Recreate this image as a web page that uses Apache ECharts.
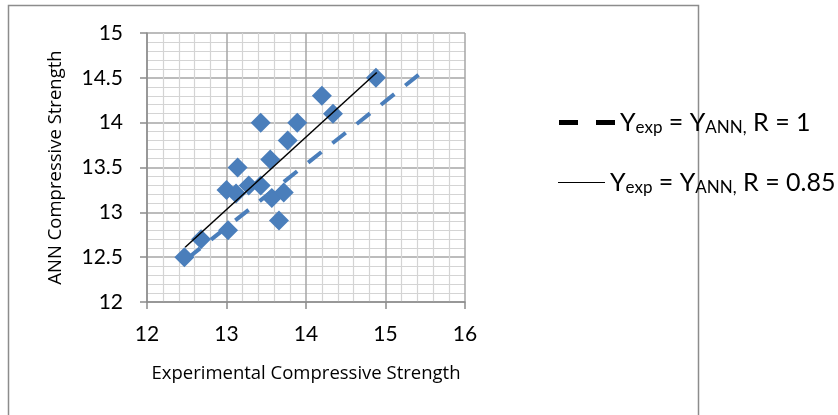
<!DOCTYPE html>
<html>
<head>
<meta charset="utf-8">
<script src="https://cdn.jsdelivr.net/npm/echarts@6/dist/echarts.min.js"></script>
<style>
  html, body { margin: 0; padding: 0; background: #fff; }
  #chart { width: 838px; height: 415px; }
</style>
</head>
<body>
<div id="chart"></div>
<script>
// 实验值与ANN预测值
const expX = [12.47, 12.68, 13.02, 13.14, 13.0, 13.12, 13.28, 13.43, 13.55, 13.57, 13.72, 13.66, 13.43, 13.89, 13.77, 14.2, 14.34, 14.88];
const annY = [12.5, 12.7, 12.8, 13.5, 13.25, 13.21, 13.3, 13.3, 13.59, 13.16, 13.22, 12.91, 14.0, 14.0, 13.8, 14.3, 14.1, 14.5];

// 两条参考线的端点
const lineR1X = [12.5, 15.44];
const lineR1Y = [12.48, 14.55];
const lineR085X = [12.48, 14.89];
const lineR085Y = [12.61, 14.56];

const xTicks = [12, 13, 14, 15, 16];
const yTicks = [12, 12.5, 13, 13.5, 14, 14.5, 15];

const nameR1 = 'R1';
const nameR085 = 'R085';

const FONT = 'Lato';
const NAME_FONT = 'Open Sans';
const GRID_MAJOR = '#a6a6a6';
const GRID_MINOR = '#d4d4d4';
const BLUE = '#4a7ebb';

function pairs(xs, ys) {
    return xs.map((x, i) => [x, ys[i]]);
}

const legendRich = {
    n: { fontFamily: FONT, fontSize: 25, color: '#000' },
    s: { fontFamily: FONT, fontSize: 17, color: '#000', padding: [11, 0, 0, 0] }
};

const chart = echarts.init(document.getElementById('chart'), null, { renderer: 'canvas' });

chart.setOption({
    animation: false,
    backgroundColor: '#fff',
    textStyle: { fontFamily: FONT },
    grid: { left: 147, right: 373, top: 33, bottom: 113, containLabel: false },
    graphic: [{
        type: 'rect',
        shape: { x: 8.5, y: 5.5, width: 690, height: 420 },
        style: { fill: 'none', stroke: '#8c8c8c', lineWidth: 1.5 },
        silent: true
    }],
    legend: [{
        left: 554, top: 105,
        itemWidth: 56, itemHeight: 5, itemGap: 10,
        data: [{
            name: nameR1,
            icon: 'path://M0,0H19V5H0Z M37,0H56V5H37Z',
            itemStyle: { color: '#000' }
        }],
        formatter: () => '{n|Y}{s|exp}{n| = Y}{s|ANN,}{n| R = 1}',
        textStyle: { rich: legendRich }
    }, {
        left: 553, top: 165,
        itemWidth: 47, itemHeight: 1.3, itemGap: 14,
        data: [{
            name: nameR085,
            icon: 'path://M0,0H47V1H0Z',
            itemStyle: { color: '#000' }
        }],
        formatter: () => '{n|Y}{s|exp}{n| = Y}{s|ANN,}{n| R = 0.85}',
        textStyle: { rich: legendRich }
    }],
    xAxis: {
        type: 'value',
        min: xTicks[0], max: xTicks[xTicks.length - 1], interval: 1,
        name: 'Experimental Compressive Strength',
        nameLocation: 'middle', nameGap: 62,
        nameTextStyle: { fontFamily: NAME_FONT, fontSize: 18.5, color: '#000' },
        axisLine: { show: true, lineStyle: { color: '#8c8c8c', width: 1.5 } },
        axisTick: { show: true, length: 7, lineStyle: { color: '#8c8c8c', width: 1.5 } },
        axisLabel: { fontFamily: FONT, fontSize: 21, color: '#000', margin: 22 },
        splitLine: { show: true, lineStyle: { color: GRID_MAJOR, width: 1.5 } },
        minorTick: { show: false, splitNumber: 5 },
        minorSplitLine: { show: true, lineStyle: { color: GRID_MINOR, width: 1.2 } }
    },
    yAxis: {
        type: 'value',
        min: yTicks[0], max: yTicks[yTicks.length - 1], interval: 0.5,
        name: 'ANN Compressive Strength',
        nameLocation: 'middle', nameGap: 82,
        nameTextStyle: { fontFamily: NAME_FONT, fontSize: 18.5, color: '#000' },
        axisLine: { show: true, lineStyle: { color: '#8c8c8c', width: 1.5 } },
        axisTick: { show: true, length: 7, lineStyle: { color: '#8c8c8c', width: 1.5 } },
        axisLabel: { fontFamily: FONT, fontSize: 21, color: '#000', margin: 24 },
        splitLine: { show: true, lineStyle: { color: GRID_MAJOR, width: 1.5 } },
        minorTick: { show: false, splitNumber: 5 },
        minorSplitLine: { show: true, lineStyle: { color: GRID_MINOR, width: 1.2 } }
    },
    series: [{
        type: 'scatter',
        name: 'data',
        data: pairs(expX, annY),
        symbol: 'diamond',
        symbolSize: 20,
        itemStyle: { color: BLUE, opacity: 1 },
        z: 2
    }, {
        type: 'line',
        name: nameR1,
        data: pairs(lineR1X, lineR1Y),
        symbol: 'none',
        lineStyle: { color: BLUE, width: 4, type: [17, 14] },
        z: 3
    }, {
        type: 'line',
        name: nameR085,
        data: pairs(lineR085X, lineR085Y),
        symbol: 'none',
        lineStyle: { color: '#000', width: 1.5 },
        z: 4
    }]
});
</script>
</body>
</html>
